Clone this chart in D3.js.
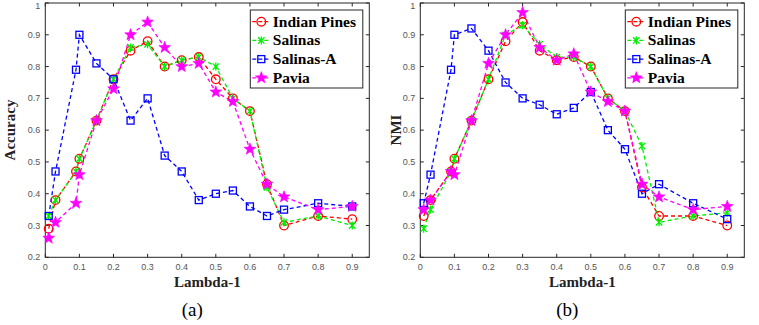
<!DOCTYPE html>
<html lang="en">
<head>
    <meta charset="UTF-8">
    <title>Lambda-1 sensitivity</title>
    <script src="https://d3js.org/d3.v7.min.js"></script>
    <style>
        body { margin: 0; padding: 0; background: #fff; }
        svg { display: block; }
        .tick-label { font-family: 'Liberation Sans', Arial, sans-serif; font-size: 9px; fill: #555; }
        .axis-title { font-family: 'Liberation Serif', 'Times New Roman', serif; font-weight: bold; font-size: 15px; fill: #222; }
        .panel-tag { font-family: 'Liberation Serif', 'Times New Roman', serif; font-size: 19px; fill: #000; }
        .legend-text { font-family: 'Liberation Serif', 'Times New Roman', serif; font-weight: bold; font-size: 15.5px; fill: #000; }
    </style>
</head>
<body>
<svg width="759" height="325"></svg>
<script>
    // lambda-1 values used for every series
    const lambdas = [0.01, 0.03, 0.09, 0.1, 0.15, 0.2, 0.25, 0.3, 0.35, 0.4, 0.45, 0.5, 0.55, 0.6, 0.65, 0.7, 0.8, 0.9];
    const seriesNames = ["Indian Pines", "Salinas", "Salinas-A", "Pavia"];
    const xTicks = [0, 0.1, 0.2, 0.3, 0.4, 0.5, 0.6, 0.7, 0.8, 0.9];
    const yTicks = [0.2, 0.3, 0.4, 0.5, 0.6, 0.7, 0.8, 0.9, 1];

    // (a) Accuracy
    const accIndianPines = [0.29, 0.38, 0.47, 0.51, 0.63, 0.76, 0.85, 0.88, 0.80, 0.82, 0.83, 0.76, 0.70, 0.66, 0.43, 0.30, 0.33, 0.32];
    const accSalinas     = [0.33, 0.38, 0.47, 0.51, 0.63, 0.76, 0.86, 0.87, 0.80, 0.82, 0.83, 0.80, 0.70, 0.66, 0.42, 0.31, 0.33, 0.30];
    const accSalinasA    = [0.33, 0.47, 0.79, 0.90, 0.81, 0.76, 0.63, 0.70, 0.52, 0.47, 0.38, 0.40, 0.41, 0.36, 0.33, 0.35, 0.37, 0.36];
    const accPavia       = [0.26, 0.31, 0.37, 0.46, 0.63, 0.73, 0.90, 0.94, 0.86, 0.80, 0.81, 0.72, 0.69, 0.54, 0.43, 0.39, 0.35, 0.36];

    // (b) NMI
    const nmiIndianPines = [0.33, 0.38, 0.47, 0.51, 0.63, 0.76, 0.88, 0.94, 0.85, 0.82, 0.83, 0.80, 0.70, 0.66, 0.42, 0.33, 0.33, 0.30];
    const nmiSalinas     = [0.29, 0.35, 0.47, 0.51, 0.63, 0.76, 0.90, 0.93, 0.87, 0.83, 0.83, 0.80, 0.70, 0.66, 0.55, 0.31, 0.33, 0.34];
    const nmiSalinasA    = [0.37, 0.46, 0.79, 0.90, 0.92, 0.85, 0.75, 0.70, 0.68, 0.65, 0.67, 0.72, 0.60, 0.54, 0.40, 0.43, 0.37, 0.32];
    const nmiPavia       = [0.35, 0.38, 0.47, 0.46, 0.63, 0.81, 0.90, 0.97, 0.86, 0.82, 0.84, 0.72, 0.69, 0.66, 0.43, 0.39, 0.35, 0.36];

    const colors = ["#ff0000", "#00f000", "#0000ff", "#ff00ff"];
    const markers = ["circle", "cross", "square", "star"];

    const svg = d3.select("svg");

    function starPath(r) {
        const pts = [];
        for (let i = 0; i < 10; i++) {
            const rad = i % 2 === 0 ? r : r * 0.42;
            const a = -Math.PI / 2 + i * Math.PI / 5;
            pts.push([rad * Math.cos(a), rad * Math.sin(a)]);
        }
        return "M" + pts.map(p => p.join(",")).join("L") + "Z";
    }

    function drawMarker(sel, type, color) {
        if (type === "circle") {
            sel.append("circle").attr("r", 4.3).attr("fill", "none").attr("stroke", color).attr("stroke-width", 1.3);
        } else if (type === "cross") {
            const s = 3.2;
            sel.append("path").attr("d", `M${-s},${-s}L${s},${s}M${-s},${s}L${s},${-s}M0,${-s - 0.8}L0,${s + 0.8}`)
                .attr("stroke", color).attr("stroke-width", 1.3).attr("fill", "none");
        } else if (type === "square") {
            sel.append("rect").attr("x", -3.5).attr("y", -3.5).attr("width", 7).attr("height", 7)
                .attr("fill", "none").attr("stroke", color).attr("stroke-width", 1.3);
        } else {
            sel.append("path").attr("d", starPath(6.2)).attr("fill", color).attr("stroke", color).attr("stroke-width", 0.6);
        }
    }

    function drawPanel(left, yLabel, tag, series, yLabelX) {
        const x = d3.scaleLinear().domain([0, 0.95]).range([left, left + 324]);
        const y = d3.scaleLinear().domain([0.2, 1]).range([257.3, 3]);
        const g = svg.append("g");

        // box
        g.append("rect").attr("x", x(0)).attr("y", y(1))
            .attr("width", x(0.95) - x(0)).attr("height", y(0.2) - y(1))
            .attr("fill", "none").attr("stroke", "#262626").attr("stroke-width", 1);

        // ticks, inward on all four sides
        const tk = 3.5;
        xTicks.forEach(t => {
            g.append("line").attr("x1", x(t)).attr("x2", x(t)).attr("y1", y(0.2)).attr("y2", y(0.2) - tk).attr("stroke", "#262626");
            g.append("line").attr("x1", x(t)).attr("x2", x(t)).attr("y1", y(1)).attr("y2", y(1) + tk).attr("stroke", "#262626");
            g.append("text").attr("class", "tick-label").attr("x", x(t)).attr("y", y(0.2) + 13)
                .attr("text-anchor", "middle").text(d3.format("")(t));
        });
        yTicks.forEach(t => {
            g.append("line").attr("x1", x(0)).attr("x2", x(0) + tk).attr("y1", y(t)).attr("y2", y(t)).attr("stroke", "#262626");
            g.append("line").attr("x1", x(0.95)).attr("x2", x(0.95) - tk).attr("y1", y(t)).attr("y2", y(t)).attr("stroke", "#262626");
            g.append("text").attr("class", "tick-label").attr("x", x(0) - 5).attr("y", Math.max(y(t) + 3, 8.5))
                .attr("text-anchor", "end").text(d3.format("")(t));
        });

        // lines + markers
        const line = d3.line().x(d => x(d[0])).y(d => y(d[1]));
        series.forEach((vals, i) => {
            const pts = lambdas.map((l, j) => [l, vals[j]]);
            g.append("path").datum(pts).attr("d", line)
                .attr("fill", "none").attr("stroke", colors[i]).attr("stroke-width", 1.3)
                .attr("stroke-dasharray", "4,3");
        });
        series.forEach((vals, i) => {
            lambdas.forEach((l, j) => {
                const m = g.append("g").attr("transform", `translate(${x(l)},${y(vals[j])})`);
                drawMarker(m, markers[i], colors[i]);
            });
        });

        // axis titles
        g.append("text").attr("class", "axis-title")
            .attr("transform", `translate(${yLabelX},130) rotate(-90)`)
            .attr("text-anchor", "middle").text(yLabel);
        g.append("text").attr("class", "axis-title")
            .attr("x", (x(0) + x(0.95)) / 2).attr("y", 287)
            .attr("text-anchor", "middle").text("Lambda-1");
        g.append("text").attr("class", "panel-tag")
            .attr("x", (x(0) + x(0.95)) / 2 - 15).attr("y", 316)
            .attr("text-anchor", "middle").text(tag);

        // legend
        const lx = x(0.95) - 119, ly = 10;
        const lg = g.append("g").attr("transform", `translate(${lx},${ly})`);
        lg.append("rect").attr("width", 112.5).attr("height", 78)
            .attr("fill", "#fff").attr("stroke", "#262626").attr("stroke-width", 1);
        seriesNames.forEach((name, i) => {
            const cy = 11.7 + i * 18.7;
            lg.append("line").attr("x1", 2).attr("x2", 18).attr("y1", cy).attr("y2", cy)
                .attr("stroke", colors[i]).attr("stroke-width", 1.3).attr("stroke-dasharray", "4,2");
            const m = lg.append("g").attr("transform", `translate(11,${cy})`);
            drawMarker(m, markers[i], colors[i]);
            lg.append("text").attr("class", "legend-text").attr("x", 22.5).attr("y", cy + 5).text(name);
        });
    }

    drawPanel(45.3, "Accuracy", "(a)", [accIndianPines, accSalinas, accSalinasA, accPavia], 15);
    drawPanel(420.3, "NMI", "(b)", [nmiIndianPines, nmiSalinas, nmiSalinasA, nmiPavia], 401);
</script>
</body>
</html>
